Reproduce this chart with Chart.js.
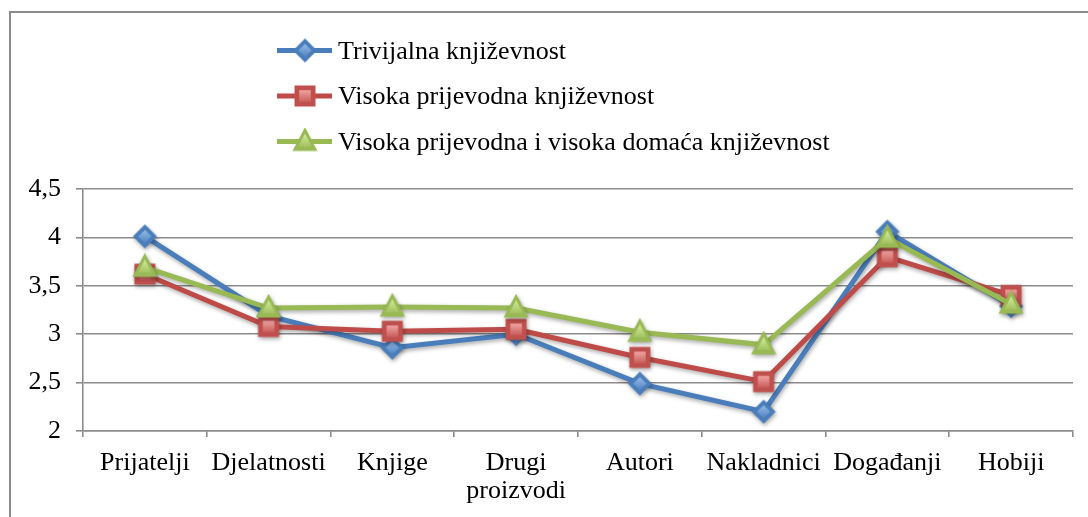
<!DOCTYPE html>
<html>
<head>
<meta charset="utf-8">
<script src="https://cdn.jsdelivr.net/npm/chart.js@4/dist/chart.umd.min.js"></script>
<style>
  html, body { margin: 0; padding: 0; background: #fff; overflow: hidden; }
  .frame { position: absolute; left: 9px; top: 11px; width: 1200px; height: 600px; border: 2px solid #8c8c8c; }
  .chart { position: absolute; left: 0; top: 0; width: 1088px; height: 517px; }
</style>
</head>
<body>
<div class="frame"></div>
<div class="chart"><canvas id="c" width="1088" height="517"></canvas></div>
<script>
const categories = ['Prijatelji', 'Djelatnosti', 'Knjige', ['Drugi', 'proizvodi'], 'Autori', 'Nakladnici', 'Događanji', 'Hobiji'];
const seriesNames = ['Trivijalna književnost', 'Visoka prijevodna književnost', 'Visoka prijevodna i visoka domaća književnost'];
const trivijalna = [4.01, 3.19, 2.86, 3.0, 2.49, 2.2, 4.06, 3.29];
const visokaPrijevodna = [3.62, 3.08, 3.03, 3.05, 2.76, 2.51, 3.8, 3.4];
const visokaDomaca = [3.69, 3.27, 3.28, 3.27, 3.02, 2.89, 3.99, 3.31];
const yTicks = [2, 2.5, 3, 3.5, 4, 4.5];

const FONT = "'Liberation Serif', 'Times New Roman', serif";
const GRID = '#8c8c8c';

// marker images (excel-ish: dark outline + lighter gradient inside)
function marker(shape, dark, light) {
  const c = document.createElement('canvas');
  c.width = 28; c.height = 28;
  const g = c.getContext('2d');
  const path = (r) => {
    g.beginPath();
    if (shape === 'diamond') {
      g.moveTo(14, 14 - r); g.lineTo(14 + r, 14); g.lineTo(14, 14 + r); g.lineTo(14 - r, 14);
    } else if (shape === 'square') {
      g.rect(14 - r, 14 - r, 2 * r, 2 * r);
    } else {
      g.moveTo(14, 14 - r * 1.15); g.lineTo(14 + r, 14 + r * 0.75); g.lineTo(14 - r, 14 + r * 0.75);
    }
    g.closePath();
  };
  const outer = shape === 'diamond' ? 12 : shape === 'square' ? 10.5 : 12.5;
  path(outer);
  g.fillStyle = dark;
  g.fill();
  const grad = g.createLinearGradient(0, 6, 0, 22);
  grad.addColorStop(0, light);
  grad.addColorStop(1, dark);
  path(outer * 0.55);
  g.fillStyle = grad;
  g.fill();
  return c;
}

const colors = ['#4a7ebb', '#be4b48', '#98b954'];
const markers = [
  marker('diamond', '#4a7ebb', '#9cc0ef'),
  marker('square', '#c0504d', '#f7b2b0'),
  marker('triangle', '#98b954', '#d4ec9c')
];

const shadowPlugin = {
  id: 'shadow',
  beforeDatasetDraw(chart) {
    const ctx = chart.ctx;
    ctx.save();
    ctx.shadowColor = 'rgba(0,0,0,0.35)';
    ctx.shadowBlur = 4;
    ctx.shadowOffsetX = 1;
    ctx.shadowOffsetY = 2;
  },
  afterDatasetDraw(chart) {
    chart.ctx.restore();
  }
};

const legendPlugin = {
  id: 'sideLegend',
  afterDraw(chart) {
    const ctx = chart.ctx;
    chart.data.datasets.forEach((ds, i) => {
      const y = 50.5 + i * 45.5;
      ctx.save();
      ctx.strokeStyle = ds.borderColor;
      ctx.lineWidth = 5;
      ctx.beginPath();
      ctx.moveTo(277, y);
      ctx.lineTo(332, y);
      ctx.stroke();
      const m = ds.pointStyle;
      ctx.drawImage(m, 305 - m.width / 2, y - m.height / 2);
      ctx.fillStyle = '#000';
      ctx.font = '26px ' + FONT;
      ctx.textBaseline = 'alphabetic';
      ctx.fillText(ds.label, 338, y + 8);
      ctx.restore();
    });
  }
};

const sets = [trivijalna, visokaPrijevodna, visokaDomaca];

new Chart(document.getElementById('c'), {
  type: 'line',
  data: {
    labels: categories,
    datasets: sets.map((d, i) => ({
      label: seriesNames[i],
      data: d,
      borderColor: colors[i],
      backgroundColor: colors[i],
      borderWidth: 5,
      pointStyle: markers[i],
      pointRadius: 10,
      tension: 0,
      order: 3 - i
    }))
  },
  plugins: [shadowPlugin, legendPlugin],
  options: {
    responsive: false,
    animation: false,
    layout: { padding: { top: 189, right: 15, left: 0, bottom: 0 } },
    plugins: {
      legend: { display: false },
      tooltip: { enabled: false }
    },
    scales: {
      x: {
        offset: true,
        grid: { offset: true, drawOnChartArea: false, color: GRID, lineWidth: 1.6, tickLength: 6 },
        border: { color: GRID, width: 1.6 },
        ticks: {
          color: '#000',
          font: { family: FONT, size: 26, lineHeight: 1.08 },
          padding: 12,
          maxRotation: 0,
          autoSkip: false
        },
        afterFit(s) { s.height = 86; }
      },
      y: {
        min: 2,
        max: 4.5,
        afterBuildTicks(s) { s.ticks = yTicks.map(v => ({ value: v })); },
        grid: { color: GRID, lineWidth: 1.6, tickLength: 7 },
        border: { color: GRID, width: 1.6 },
        ticks: {
          color: '#000',
          font: { family: FONT, size: 26 },
          padding: 15,
          callback: v => String(v).replace('.', ',')
        },
        afterFit(s) { s.width = 83; }
      }
    }
  }
});
</script>
</body>
</html>
